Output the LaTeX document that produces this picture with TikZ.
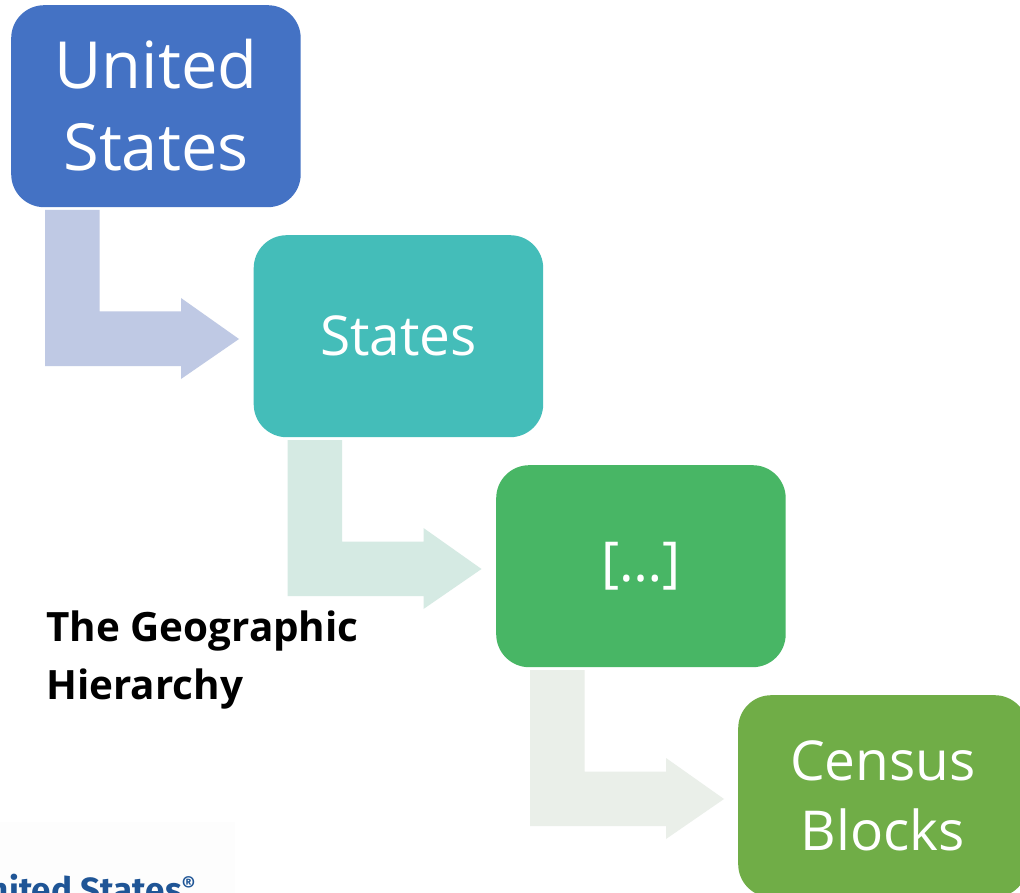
\documentclass[tikz,border=0pt]{standalone}
\usepackage{fontspec}
\setmainfont{Open Sans}
\newfontfamily\logofont{Fira Sans}
\definecolor{boxa}{HTML}{4472C4}
\definecolor{boxb}{HTML}{44BDB9}
\definecolor{boxc}{HTML}{48B665}
\definecolor{boxd}{HTML}{70AD47}
\definecolor{arra}{HTML}{BFC9E4}
\definecolor{arrb}{HTML}{D5EAE3}
\definecolor{arrc}{HTML}{EAEFE9}
\definecolor{logoblue}{HTML}{1F5596}
\definecolor{logobg}{HTML}{FDFDFD}
\tikzset{
  x=1pt,y=-1pt,
  geobox/.style={rounded corners=33pt,minimum width=289.5pt,minimum height=202pt,
    inner sep=0pt,text=white,align=center,anchor=north west,text width=280pt},
  bent/.pic={\fill[pic actions] (0,0) -- (54.5,0) -- (54.5,101.5) -- (136,101.5) -- (136,88)
    -- (194,129) -- (136,169) -- (136,156) -- (0,156) -- cycle;},
}
\begin{document}
\begin{tikzpicture}
\useasboundingbox (0,0) rectangle (1020,893);
\clip (0,0) rectangle (1020,893);
\fill[white] (0,0) rectangle (1020,893);
\fill[logobg] (0,822) rectangle (235,893);
\pic[fill=arra] at (45,210) {bent};
\pic[fill=arrb] at (287.5,440) {bent};
\pic[fill=arrc] at (530,670) {bent};
\node[geobox,fill=boxa,font=\fontsize{65}{81.5}\selectfont] (us) at (11,5) {\raisebox{3pt}{United}\\\raisebox{3pt}{States}};
\node[geobox,fill=boxb,font=\fontsize{55}{70}\selectfont] (st) at (253.5,235) {States};
\node[geobox,fill=boxc,font=\fontsize{55}{70}\selectfont] (mid) at (496,465) {[…]};
\node[geobox,fill=boxd,font=\fontsize{55}{70}\selectfont] (cb) at (738,695) {Census\\Blocks};
\node[anchor=north west,inner sep=0pt,align=left,font=\fontsize{40.4}{58}\selectfont\bfseries] (title) at (46,611) {The Geographic\\Hierarchy};
\node[anchor=base west,inner sep=0pt,text=logoblue,font=\logofont\bfseries\fontsize{35}{40}\selectfont] (logo) at (-34,902) {United States\raisebox{10pt}{\fontsize{21}{21}\selectfont®}};
\end{tikzpicture}
\end{document}
